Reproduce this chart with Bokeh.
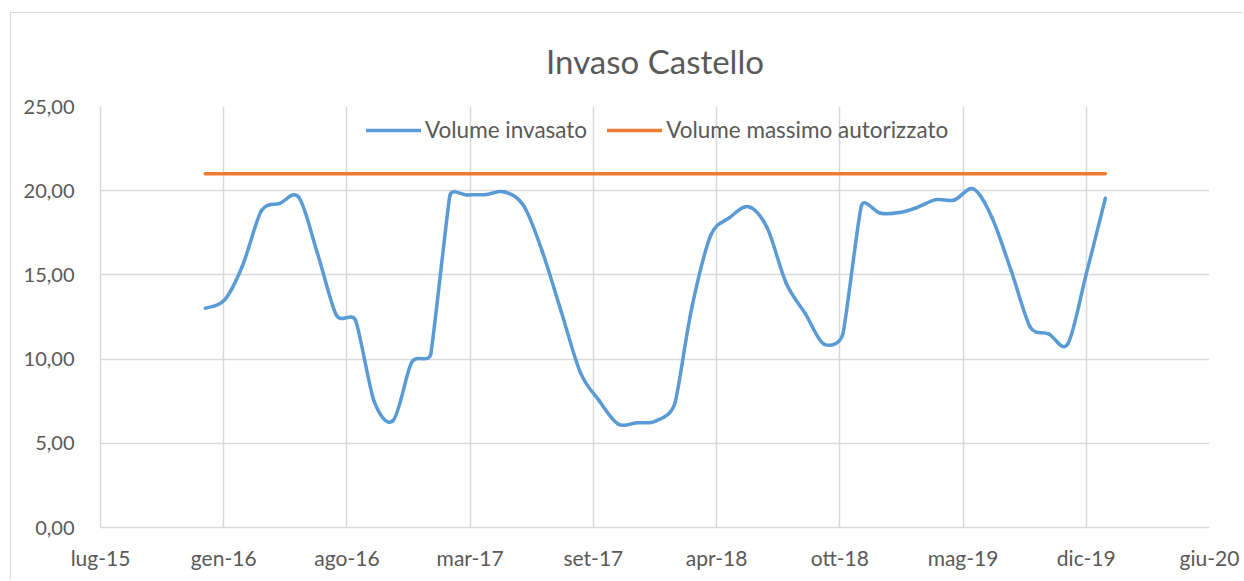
import math
import pandas as pd
from bokeh.plotting import figure
from bokeh.models import Range1d, FixedTicker, Legend, LegendItem
from bokeh.embed import file_html
from bokeh.resources import INLINE

# ---- data ----
mesi = [
    "2016-01-01", "2016-02-01", "2016-03-01", "2016-04-01", "2016-05-01", "2016-06-01",
    "2016-07-01", "2016-08-01", "2016-09-01", "2016-10-01", "2016-11-01", "2016-12-01",
    "2017-01-01", "2017-02-01", "2017-03-01", "2017-04-01", "2017-05-01", "2017-06-01",
    "2017-07-01", "2017-08-01", "2017-09-01", "2017-10-01", "2017-11-01", "2017-12-01",
    "2018-01-01", "2018-02-01", "2018-03-01", "2018-04-01", "2018-05-01", "2018-06-01",
    "2018-07-01", "2018-08-01", "2018-09-01", "2018-10-01", "2018-11-01", "2018-12-01",
    "2019-01-01", "2019-02-01", "2019-03-01", "2019-04-01", "2019-05-01", "2019-06-01",
    "2019-07-01", "2019-08-01", "2019-09-01", "2019-10-01", "2019-11-01", "2019-12-01",
    "2020-01-01",
]
volume_invasato = [
    13.02, 13.50, 15.50, 18.80, 19.25, 19.60, 16.30, 12.60, 12.30, 7.50, 6.35, 9.80,
    10.30, 19.70, 19.75, 19.78, 19.92, 19.10, 16.40, 12.80, 9.20, 7.55, 6.15, 6.22,
    6.32, 7.35, 13.10, 17.40, 18.40, 19.05, 17.80, 14.50, 12.70, 10.90, 11.50, 19.10,
    18.66, 18.70, 19.00, 19.47, 19.45, 20.10, 18.40, 15.26, 11.90, 11.50, 10.90, 15.06,
    19.55,
]
volume_massimo_autorizzato = [
    21.0, 21.0, 21.0, 21.0, 21.0, 21.0, 21.0, 21.0, 21.0, 21.0, 21.0, 21.0,
    21.0, 21.0, 21.0, 21.0, 21.0, 21.0, 21.0, 21.0, 21.0, 21.0, 21.0, 21.0,
    21.0, 21.0, 21.0, 21.0, 21.0, 21.0, 21.0, 21.0, 21.0, 21.0, 21.0, 21.0,
    21.0, 21.0, 21.0, 21.0, 21.0, 21.0, 21.0, 21.0, 21.0, 21.0, 21.0, 21.0,
    21.0,
]
x_tick_dates = ["2015-07-15", "2016-01-31", "2016-08-18", "2017-03-06", "2017-09-22",
                "2018-04-10", "2018-10-27", "2019-05-15", "2019-12-01", "2020-06-18"]
x_tick_labels = ["lug-15", "gen-16", "ago-16", "mar-17", "set-17",
                 "apr-18", "ott-18", "mag-19", "dic-19", "giu-20"]
y_ticks = [0, 5, 10, 15, 20, 25]
y_tick_labels = ["0,00", "5,00", "10,00", "15,00", "20,00", "25,00"]

titolo = "Invaso Castello"
serie_nomi = ["Volume invasato", "Volume massimo autorizzato"]


def to_ms(s):
    return pd.Timestamp(s).value / 1e6


xs = [to_ms(d) for d in mesi]
xt = [to_ms(d) for d in x_tick_dates]

# layout (pixels)
W, H = 1232, 567
BL, BT = 89, 93
FW, FH = 1109, 421
BR, BB = W - BL - FW, H - BT - FH

# Excel-like smoothed line: cubic Bezier segments, control points computed in
# screen space with Excel's 1/6 factor, limited to half the adjacent segments.
sx = FW / (xt[-1] - xt[0])
sy = FH / 25.0
ys = volume_invasato
n = len(xs)


def dist(i, j):
    return math.hypot((xs[j] - xs[i]) * sx, (ys[j] - ys[i]) * sy)


tan_x, tan_y, fac = [], [], []
for i in range(n):
    a = max(i - 1, 0)
    b = min(i + 1, n - 1)
    d02 = dist(a, b)
    f = 1.0 / 6.0
    if d02 > 0:
        if a != i:
            f = min(f, dist(a, i) / (2 * d02))
        if b != i:
            f = min(f, dist(i, b) / (2 * d02))
    tan_x.append(xs[b] - xs[a])
    tan_y.append(ys[b] - ys[a])
    fac.append(f)

bx0, by0, bx1, by1, cx0, cy0, cx1, cy1 = [], [], [], [], [], [], [], []
for i in range(n - 1):
    bx0.append(xs[i]); by0.append(ys[i])
    bx1.append(xs[i + 1]); by1.append(ys[i + 1])
    cx0.append(xs[i] + fac[i] * tan_x[i])
    cy0.append(ys[i] + fac[i] * tan_y[i])
    cx1.append(xs[i + 1] - fac[i + 1] * tan_x[i + 1])
    cy1.append(ys[i + 1] - fac[i + 1] * tan_y[i + 1])

GRID = "#d9d9d9"
TXT = "#595959"
FONT = "Lato"

p = figure(
    width=W, height=H,
    x_axis_type="datetime",
    x_range=Range1d(xt[0], xt[-1]),
    y_range=Range1d(0, 25),
    output_backend="svg",
    toolbar_location=None,
    min_border_left=BL, min_border_right=BR,
    min_border_top=BT, min_border_bottom=BB,
)
p.margin = (12, 0, 0, 10)
p.styles = {"border-left": "1px solid #d9d9d9", "border-top": "1px solid #d9d9d9"}
p.outline_line_color = None

p.title.text = titolo
p.title.align = "center"
p.title.text_font = FONT
p.title.text_font_size = "33px"
p.title.text_font_style = "normal"
p.title.text_color = TXT
p.title.standoff = 51

# axes
p.xaxis.ticker = FixedTicker(ticks=xt)
p.xaxis.major_label_overrides = {t: lab for t, lab in zip(xt, x_tick_labels)}
p.yaxis.ticker = FixedTicker(ticks=y_ticks)
p.yaxis.major_label_overrides = {t: lab for t, lab in zip(y_ticks, y_tick_labels)}
for ax in (p.xaxis, p.yaxis):
    ax.axis_line_color = GRID
    ax.axis_line_width = 1.5
    ax.major_tick_line_color = None
    ax.minor_tick_line_color = None
    ax.major_tick_out = 0
    ax.major_tick_in = 0
    ax.minor_tick_out = 0
    ax.minor_tick_in = 0
    ax.major_label_text_font = FONT
    ax.major_label_text_color = TXT
p.yaxis.major_label_text_font_size = "20px"
p.xaxis.major_label_text_font_size = "21px"
p.yaxis.major_label_standoff = 26
p.xaxis.major_label_standoff = 17

p.xgrid.ticker = FixedTicker(ticks=xt)
p.ygrid.ticker = FixedTicker(ticks=y_ticks)
for g in (p.xgrid, p.ygrid):
    g.grid_line_color = GRID
    g.grid_line_width = 1.5

r_inv = p.bezier(x0=bx0, y0=by0, x1=bx1, y1=by1, cx0=cx0, cy0=cy0, cx1=cx1, cy1=cy1,
                 line_color="#5B9BD5", line_width=3.5, line_cap="round")
r_max = p.line(x=xs, y=volume_massimo_autorizzato, line_color="#ED7D31",
               line_width=3.5, line_cap="round")

legend = Legend(
    items=[LegendItem(label=serie_nomi[0], renderers=[r_inv]),
           LegendItem(label=serie_nomi[1], renderers=[r_max])],
    orientation="horizontal", location=(266, 384),
    border_line_color=None, background_fill_alpha=0,
    label_text_font=FONT, label_text_font_size="22.5px", label_text_color=TXT,
    glyph_width=55, glyph_height=20, label_height=20, label_standoff=4,
    spacing=20, padding=10, margin=0,
)
p.add_layout(legend)

open("out.html", "w").write(file_html(p, INLINE))
